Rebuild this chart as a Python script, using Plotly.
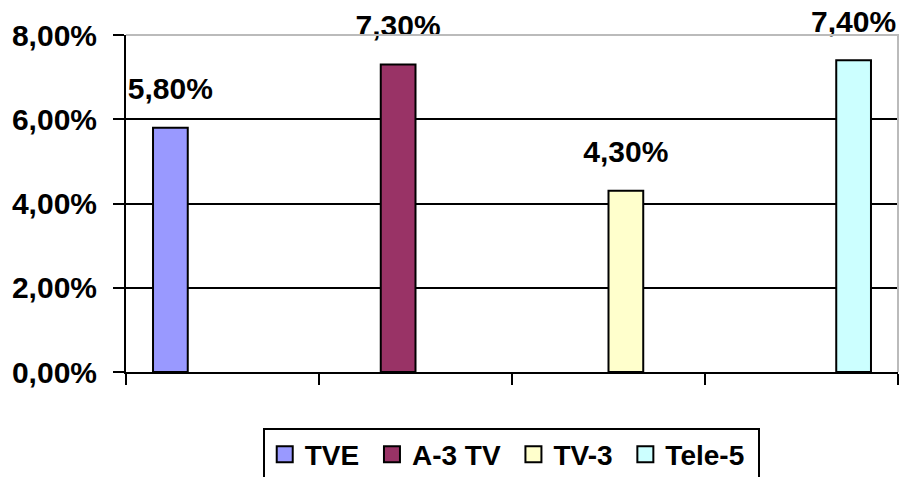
import plotly.graph_objects as go

categories = ["c1", "c2", "c3", "c4"]
series_names = ["TVE", "A-3 TV", "TV-3", "Tele-5"]
series_values = [5.8, 7.3, 4.3, 7.4]
series_colors = ["#9999FF", "#993366", "#FFFFCC", "#CCFFFF"]
y_tickvals = [0, 2, 4, 6, 8]
y_ticktext = ["0,00%", "2,00%", "4,00%", "6,00%", "8,00%"]

FONT = "Liberation Sans, Arial, sans-serif"
FS = 30
FS_LEG = 28

fig = go.Figure()
for i, (name, val, col) in enumerate(zip(series_names, series_values, series_colors)):
    ys = [val if j == i else None for j in range(len(categories))]
    txt = [("%.2f%%" % val).replace(".", ",") if j == i else "" for j in range(len(categories))]
    fig.add_trace(go.Bar(
        x=categories, y=ys, name=name, showlegend=False,
        marker=dict(color=col, line=dict(color="black", width=2)),
        offsetgroup=str(i), alignmentgroup="a",
    ))
    # data labels, grouped like the bars
    fig.add_trace(go.Scatter(
        x=categories, y=ys, mode="markers+text", text=txt, textposition="top center",
        marker=dict(size=32, color="rgba(0,0,0,0)"), showlegend=False, hoverinfo="skip",
        offsetgroup=str(i), alignmentgroup="a", cliponaxis=False,
        textfont=dict(family=FONT, size=FS, color="black", weight="bold"),
    ))
# legend entries
for name, col in zip(series_names, series_colors):
    fig.add_trace(go.Scatter(
        x=[None], y=[None], mode="markers", name=name + "\u00a0",
        marker=dict(symbol="square", size=20, color=col, line=dict(color="black", width=2)),
    ))

fig.update_layout(
    width=902, height=477,
    margin=dict(l=126, r=4, t=35, b=105, autoexpand=False),
    paper_bgcolor="white", plot_bgcolor="white",
    barmode="group", bargap=0.28, bargroupgap=0,
    scattermode="group", scattergap=0.28,
    showlegend=True,
    legend=dict(
        orientation="h", x=0.499, xanchor="center", y=-0.165, yanchor="top",
        font=dict(family=FONT, size=FS_LEG, color="black", weight="bold"),
        bordercolor="black", borderwidth=2, bgcolor="white",
        itemwidth=30, tracegroupgap=0, itemsizing="trace",
    ),
    font=dict(family=FONT, color="black"),
    shapes=[dict(type="path", xref="paper", yref="paper",
                 path="M 0 1 L 1 1 L 1 0", line=dict(color="#BBBBBB", width=2),
                 layer="above")],
)
fig.update_xaxes(
    type="category", tickson="boundaries", ticks="outside", ticklen=11,
    tickwidth=2, tickcolor="black", showticklabels=False,
    showline=True, linecolor="black", linewidth=2, showgrid=False,
)
fig.update_yaxes(
    range=[0, 8], tickvals=y_tickvals, ticktext=y_ticktext,
    ticks="outside", ticklen=11, tickwidth=2, tickcolor="black",
    ticklabelstandoff=10,
    showline=True, linecolor="black", linewidth=2,
    showgrid=True, gridcolor="black", gridwidth=1.5, zeroline=False,
    tickfont=dict(family=FONT, size=FS, color="black", weight="bold"),
)

fig.write_html("out.html", config={"displayModeBar": False},
               post_script="document.body.style.margin='0';document.body.style.overflow='hidden';")
